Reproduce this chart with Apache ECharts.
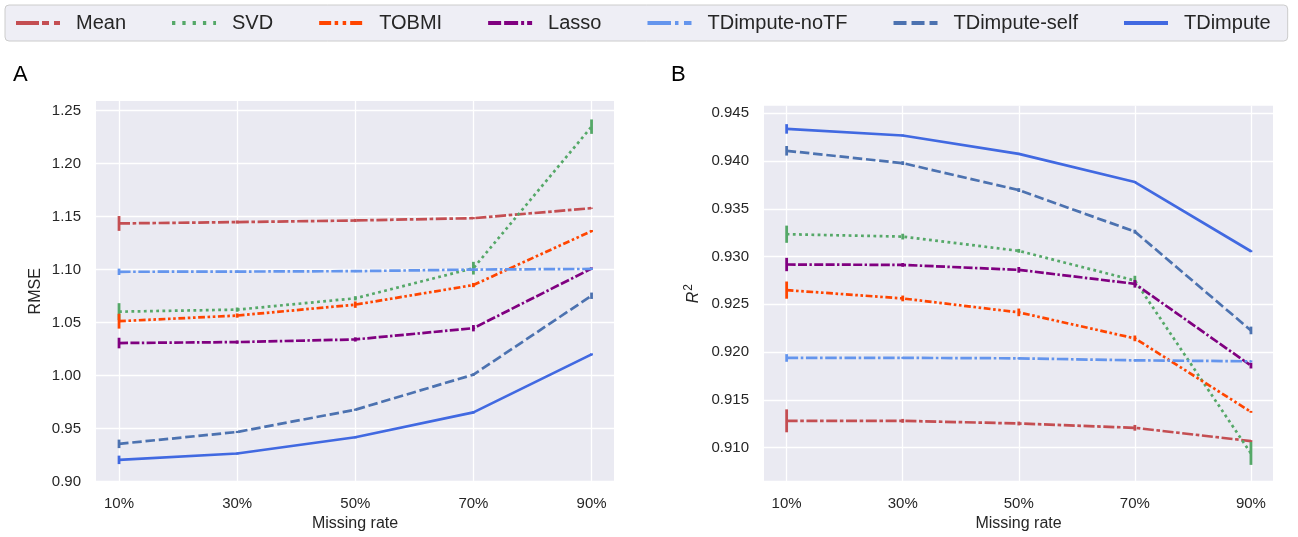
<!DOCTYPE html>
<html><head><meta charset="utf-8">
<script src="https://cdn.jsdelivr.net/npm/echarts@6/dist/echarts.min.js"></script>
<style>html,body{margin:0;padding:0;background:#fff}#c{width:1298px;height:537px}</style>
</head><body><div id="c"></div>
<script>
// ---------- data ----------
const categories = ['10%', '30%', '50%', '70%', '90%'];
const methods = ['Mean', 'SVD', 'TOBMI', 'Lasso', 'TDimpute-noTF', 'TDimpute-self', 'TDimpute'];
const yTicksRMSE = ['0.90', '0.95', '1.00', '1.05', '1.10', '1.15', '1.20', '1.25'];
const yTicksR2 = ['0.910', '0.915', '0.920', '0.925', '0.930', '0.935', '0.940', '0.945'];

// Panel A: RMSE
const rmseMean     = [1.1435, 1.1448, 1.1463, 1.1485, 1.1579];
const rmseSVD      = [1.0603, 1.0622, 1.0729, 1.1013, 1.2348];
const rmseTOBMI    = [1.0513, 1.0566, 1.0669, 1.0854, 1.1363];
const rmseLasso    = [1.0307, 1.0316, 1.0341, 1.0447, 1.1010];
const rmseNoTF     = [1.0979, 1.0981, 1.0985, 1.1000, 1.1006];
const rmseSelf     = [0.9356, 0.9468, 0.9678, 1.0009, 1.0753];
const rmseTDimpute = [0.9205, 0.9265, 0.9418, 0.9653, 1.0200];
// error half-widths, Panel A
const rmseErrMean     = [0.0070, 0.0015, 0.0015, 0.0010, 0.0005];
const rmseErrSVD      = [0.0080, 0.0020, 0.0020, 0.0060, 0.0068];
const rmseErrTOBMI    = [0.0070, 0.0020, 0.0030, 0.0020, 0.0010];
const rmseErrLasso    = [0.0050, 0.0015, 0.0020, 0.0030, 0.0010];
const rmseErrNoTF     = [0.0030, 0.0010, 0.0010, 0.0010, 0.0010];
const rmseErrSelf     = [0.0040, 0.0010, 0.0010, 0.0010, 0.0030];
const rmseErrTDimpute = [0.0040, 0.0010, 0.0010, 0.0010, 0.0010];

// Panel B: R^2
const r2Mean     = [0.91281, 0.91281, 0.91253, 0.91208, 0.91069];
const r2SVD      = [0.93234, 0.93209, 0.93060, 0.92749, 0.90940];
const r2TOBMI    = [0.92649, 0.92562, 0.92416, 0.92144, 0.91375];
const r2Lasso    = [0.92917, 0.92913, 0.92861, 0.92715, 0.91859];
const r2NoTF     = [0.91939, 0.91940, 0.91935, 0.91914, 0.91904];
const r2Self     = [0.94107, 0.93978, 0.93696, 0.93261, 0.92227];
const r2TDimpute = [0.94336, 0.94267, 0.94075, 0.93780, 0.93056];
// error half-widths, Panel B
const r2ErrMean     = [0.0012, 0.0002, 0.0002, 0.0003, 0.0001];
const r2ErrSVD      = [0.0009, 0.0003, 0.0002, 0.0005, 0.0012];
const r2ErrTOBMI    = [0.0009, 0.0003, 0.0004, 0.0003, 0.0001];
const r2ErrLasso    = [0.0007, 0.0002, 0.0003, 0.0004, 0.0003];
const r2ErrNoTF     = [0.0004, 0.0001, 0.0001, 0.0001, 0.0001];
const r2ErrSelf     = [0.0005, 0.0002, 0.0002, 0.0002, 0.0004];
const r2ErrTDimpute = [0.0005, 0.0001, 0.0001, 0.0001, 0.0001];

// ---------- styles ----------
const colors = ['#C44E52', '#55A868', '#FF4500', '#800080', '#6495ED', '#4C72B0', '#4169E1'];
const plotDash = [[11, 2.6, 3.6, 2.6], [2.8, 3.4], [6.8, 2.6, 2.6, 2.6, 2.6, 2.6], [9, 2.4, 9, 2.4, 2.4, 2.4], [11.5, 2.6, 2.6, 2.6], [9.5, 3.8], 'solid'];
const legendDash = [[23, 3, 7, 5], [3.3, 7], [12, 3.5, 3.5, 4.5, 3.5, 4], [13, 3, 14, 3, 3, 3], [23.5, 4, 3.5, 5.5], [13, 5], 'solid'];
const FONT = "'Liberation Sans', Arial, sans-serif";
const TXT = '#262626';

const panelA = [rmseMean, rmseSVD, rmseTOBMI, rmseLasso, rmseNoTF, rmseSelf, rmseTDimpute];
const panelAErr = [rmseErrMean, rmseErrSVD, rmseErrTOBMI, rmseErrLasso, rmseErrNoTF, rmseErrSelf, rmseErrTDimpute];
const panelB = [r2Mean, r2SVD, r2TOBMI, r2Lasso, r2NoTF, r2Self, r2TDimpute];
const panelBErr = [r2ErrMean, r2ErrSVD, r2ErrTOBMI, r2ErrLasso, r2ErrNoTF, r2ErrSelf, r2ErrTDimpute];

const chart = echarts.init(document.getElementById('c'), null, {renderer: 'canvas'});

function xAxis(gi) {
  return {
    type: 'value', gridIndex: gi, min: -0.195, max: 4.19, minInterval: 1, maxInterval: 1,
    name: 'Missing rate', nameLocation: 'middle', nameGap: 27,
    nameTextStyle: {fontSize: 16, color: TXT, fontFamily: FONT},
    axisLine: {show: false}, axisTick: {show: false},
    axisLabel: {
      margin: 14.5, fontSize: 15, color: TXT, fontFamily: FONT,
      showMinLabel: false, showMaxLabel: false,
      formatter: v => { const i = Math.round(v); return Math.abs(v - i) < 1e-6 && categories[i] ? categories[i] : ''; }
    },
    splitLine: {show: true, showMinLine: false, showMaxLine: false, lineStyle: {color: '#ffffff', width: 1.3}}
  };
}
function yAxis(gi, min, max, step, ticks, digits, name, nameGap, rich) {
  return {
    type: 'value', gridIndex: gi, min: min, max: max, minInterval: step, maxInterval: step,
    name: name, nameLocation: 'middle', nameGap: nameGap,
    nameTextStyle: {fontSize: 16, color: TXT, fontFamily: FONT, rich: rich},
    axisLine: {show: false}, axisTick: {show: false},
    axisLabel: {
      margin: 15, fontSize: 15, color: TXT, fontFamily: FONT, showMaxLabel: false, showMinLabel: true,
      formatter: v => { const s = v.toFixed(digits); return ticks.indexOf(s) >= 0 ? s : ''; }
    },
    splitLine: {show: true, showMaxLine: false, lineStyle: {color: '#ffffff', width: 1.3}}
  };
}

const series = [];
function addPanel(values, errs, gi) {
  values.forEach((vals, k) => {
    series.push({
      name: methods[k], type: 'line', xAxisIndex: gi, yAxisIndex: gi,
      data: vals.map((v, i) => [i, v]), symbol: 'none', silent: true, z: 2 + k,
      lineStyle: {color: colors[k], width: 2.7, type: plotDash[k], cap: 'butt'},
      itemStyle: {color: colors[k]}
    });
    series.push({
      name: methods[k] + ' err' + gi, type: 'custom', xAxisIndex: gi, yAxisIndex: gi, silent: true, z: 2 + k,
      data: vals.map((v, i) => [i, v - errs[k][i], v + errs[k][i]]),
      encode: {x: 0, y: [1, 2]},
      renderItem: (params, api) => {
        const p1 = api.coord([api.value(0), api.value(1)]);
        const p2 = api.coord([api.value(0), api.value(2)]);
        return {type: 'line', shape: {x1: p1[0], y1: p1[1], x2: p2[0], y2: p2[1]}, style: {stroke: colors[k], lineWidth: 2.8}};
      }
    });
  });
}
addPanel(panelA, panelAErr, 0);
addPanel(panelB, panelBErr, 1);

chart.setOption({
  animation: false,
  backgroundColor: '#ffffff',
  textStyle: {fontFamily: FONT},
  title: [
    {text: 'A', left: 13, top: 64, padding: 0, textStyle: {fontSize: 22, fontWeight: 'normal', color: '#000', fontFamily: FONT}},
    {text: 'B', left: 671, top: 64, padding: 0, textStyle: {fontSize: 22, fontWeight: 'normal', color: '#000', fontFamily: FONT}}
  ],
  legend: {
    left: 5, top: 5, width: 1280, orient: 'horizontal',
    padding: [8, 17, 8, 9],
    itemWidth: 44, itemHeight: 20, itemGap: 44,
    backgroundColor: 'rgba(234,234,242,0.8)', borderColor: '#cccccc', borderWidth: 1, borderRadius: 4,
    textStyle: {fontSize: 20, color: TXT, fontFamily: FONT, padding: [0, 0, 0, 11]},
    data: methods.map((m, i) => ({
      name: m,
      itemStyle: {opacity: 0},
      lineStyle: {type: legendDash[i], width: 4, color: colors[i], opacity: 1}
    }))
  },
  grid: [
    {left: 96, top: 101, width: 518, height: 382.5, show: true, backgroundColor: '#EAEAF2', borderWidth: 0},
    {left: 764, top: 105.7, width: 509, height: 377, show: true, backgroundColor: '#EAEAF2', borderWidth: 0}
  ],
  xAxis: [xAxis(0), xAxis(1)],
  yAxis: [
    yAxis(0, 0.90, 1.259, 0.05, yTicksRMSE, 2, 'RMSE', 52),
    yAxis(1, 0.90645, 0.94579, 0.005, yTicksR2, 3, '{r|R}{s|2}', 60, {
      r: {fontStyle: 'italic', fontSize: 16, color: TXT, fontFamily: FONT},
      s: {fontSize: 12, color: TXT, fontFamily: FONT, padding: [0, 0, 9, 1]}
    })
  ],
  series: series
});
</script></body></html>
